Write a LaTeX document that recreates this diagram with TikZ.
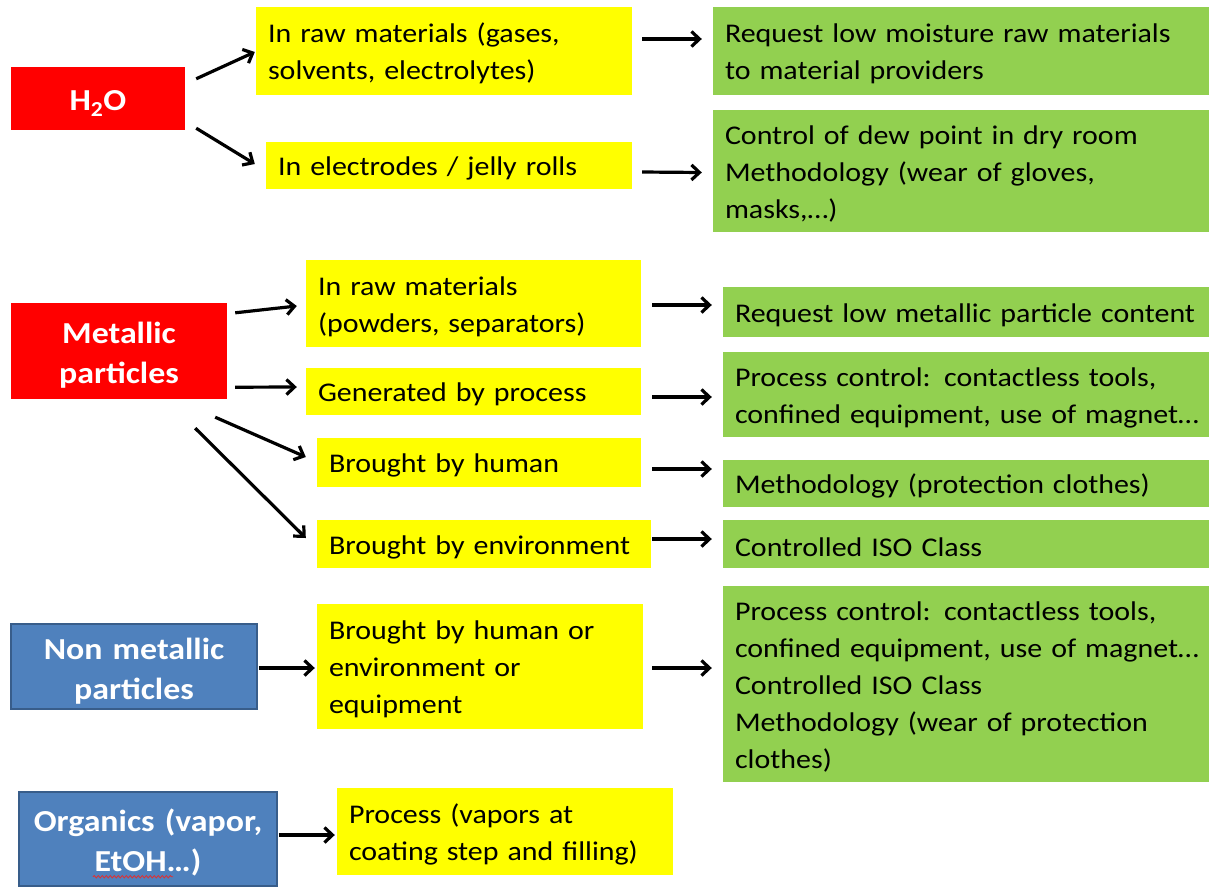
\documentclass[tikz,border=0pt]{standalone}
\usepackage{fontspec}
\setmainfont[FakeStretch=1.11]{Carlito}
\usetikzlibrary{arrows.meta,calc,decorations.pathmorphing}
\definecolor{yel}{HTML}{FFFF00}
\definecolor{grn}{HTML}{92D050}
\definecolor{redb}{HTML}{FF0000}
\definecolor{blu}{HTML}{4F81BD}
\definecolor{bluedge}{HTML}{385D8A}
\definecolor{squig}{HTML}{E03030}
\tikzset{
  base/.style={rectangle, inner xsep=12pt, inner ysep=0pt, align=left,
    font=\fontsize{27}{37}\selectfont,
    execute at begin node={\rule{0pt}{25pt}}},
  ybox/.style={base, fill=yel},
  gbox/.style={base, fill=grn},
  hbox/.style={rectangle, inner xsep=4pt, inner ysep=0pt, align=center, text=white,
    font=\bfseries\fontsize{30.5}{40}\selectfont,
    execute at begin node={\rule{0pt}{30pt}}},
  rbox/.style={hbox, fill=redb},
  bbox/.style={hbox, fill=blu, draw=bluedge, line width=1.5pt},
  arr/.style={line width=3.2pt, -{Straight Barb[length=8pt,width=15pt]}},
}
\newcommand\bx[7]{%
  \pgfmathsetmacro\bxw{#5-#3}\pgfmathsetmacro\bxh{#6-#4}%
  \pgfmathsetmacro\bxt{#5-#3-24}%
  \node[#2, minimum width=\bxw pt, minimum height=\bxh pt, text width=\bxt pt]
    (#1) at ({(#3+#5)/2},{(#4+#6)/2}) {#7};}
\begin{document}
\begin{tikzpicture}[x=1pt,y=-1pt]
\fill[white] (0,0) rectangle (1209,892);
\useasboundingbox (0,0) rectangle (1209,892);
% H2O group
\bx{h2o}{rbox}{11}{67}{185}{130}{H\textsubscript{2}O}
\bx{y1}{ybox}{256}{7}{632}{95}{In raw materials (gases,\\solvents, electrolytes)}
\bx{g1}{gbox}{713}{7}{1240}{95}{Request low moisture raw materials\\to material providers}
\bx{y2}{ybox}{266}{142}{632}{189}{In electrodes / jelly rolls}
\bx{g2}{gbox}{713}{110}{1240}{232}{Control of dew point in dry room\\Methodology (wear of gloves,\\masks,…)}
% Metallic group
\bx{met}{rbox}{11}{303}{227}{399}{Metallic\\particles}
\bx{y3}{ybox}{306}{260}{641}{347}{In raw materials\\(powders, separators)}
\bx{y4}{ybox}{306}{368}{641}{415}{Generated by process}
\bx{y5}{ybox}{317}{438}{641}{487}{Brought by human}
\bx{y6}{ybox}{317}{520}{651}{568}{Brought by environment}
\bx{g3}{gbox}{723}{287}{1240}{337}{Request low metallic particle content}
\bx{g4}{gbox}{723}{352}{1240}{437}{Process control:  contactless tools,\\confined equipment, use of magnet…}
\bx{g5}{gbox}{723}{460}{1240}{507}{Methodology (protection clothes)}
\bx{g6}{gbox}{723}{520}{1240}{568}{Controlled ISO Class}
% Non metallic group
\bx{nm}{bbox}{11}{624}{257}{709}{Non metallic\\particles}
\bx{y7}{ybox}{317}{604}{643}{729}{Brought by human  or\\environment  or\\equipment}
\bx{g7}{gbox}{723}{586}{1240}{782}{Process control:  contactless tools,\\confined equipment, use of magnet…\\Controlled ISO Class\\Methodology (wear of protection\\clothes)}
% Organics group
\bx{org}{bbox}{19}{792}{277}{886}{Organics (vapor,\\EtOH…)}
\bx{y8}{ybox}{337}{788}{673}{875}{Process (vapors at\\coating step and filling)}
\draw[squig, line width=0.8pt, decorate, decoration={snake, amplitude=1.2pt, segment length=4pt}]
  ($(org.south)+(-55,-10)$) -- ($(org.south)+(25,-10)$);
% arrows
\draw[arr] ($(h2o.north east)+(11,12)$) -- ($(y1.west)+(-1,1)$);
\draw[arr] ($(h2o.south east)+(11,-2)$) -- ($(y2.west)+(-11,-1.5)$);
\draw[arr] ($(y1.east)+(10,-12)$) -- ($(g1.west)+(-11,-12)$);
\draw[arr] ($(y2.east)+(10,6.5)$) -- ($(g2.west)+(-11,1.5)$);
\draw[arr] ($(met.north east)+(8,10)$) -- ($(y3.west)+(-9,2.5)$);
\draw[arr] ($(met.south east)+(8,-12)$) -- ($(y4.west)+(-9,-4.5)$);
\draw[arr] ($(met.south east)+(-12,18)$) -- ($(y5.west)+(-11,-5.5)$);
\draw[arr] ($(met.south east)+(-32,29)$) -- ($(y6.west)+(-11,-6)$);
\draw[arr] ($(y3.east)+(11,1.5)$) -- ($(g3.west)+(-11,-7)$);
\draw[arr] ($(y4.east)+(11,5.5)$) -- ($(g4.west)+(-11,2.5)$);
\draw[arr] ($(y5.east)+(11,6.5)$) -- ($(g5.west)+(-11,-14.5)$);
\draw[arr] ($(y6.east)+(1,-5)$) -- ($(g6.west)+(-11,-5)$);
\draw[arr] ($(nm.east)+(1,1.5)$) -- ($(y7.west)+(-2,1.5)$);
\draw[arr] ($(y7.east)+(9,1.5)$) -- ($(g7.west)+(-11,-16)$);
\draw[arr] ($(org.east)+(1,-4)$) -- ($(y8.west)+(-2,3.5)$);
\end{tikzpicture}
\end{document}
